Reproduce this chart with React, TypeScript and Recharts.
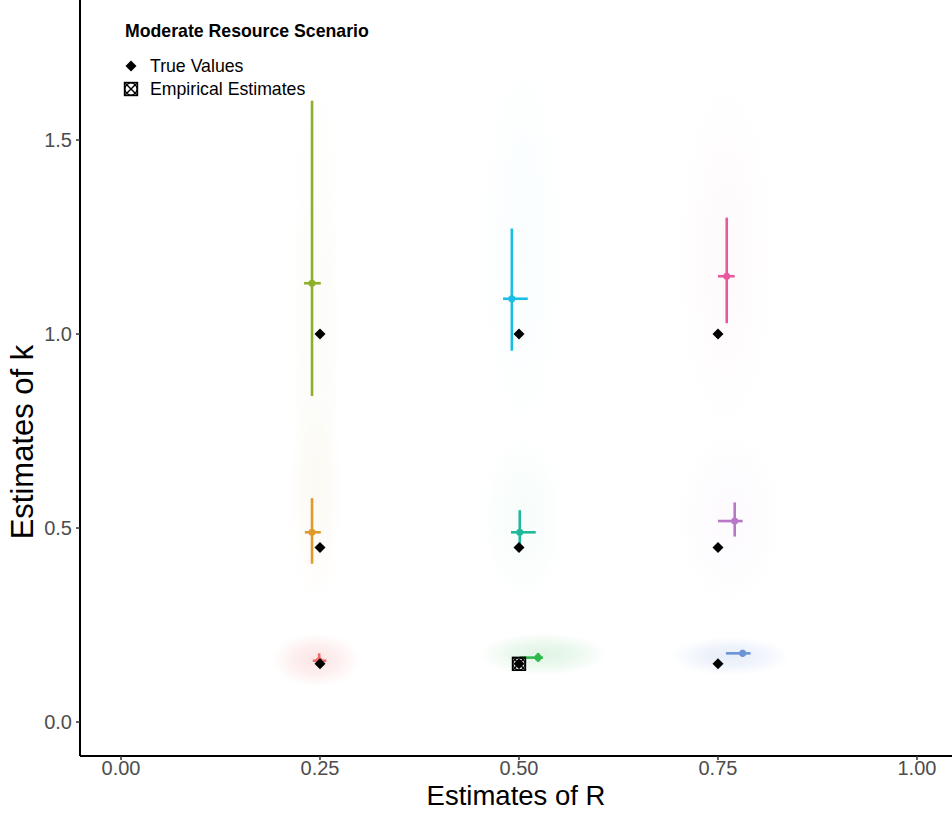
import React from 'react';
import { ScatterChart, Scatter, XAxis, YAxis, ErrorBar, ReferenceArea } from 'recharts';

const FONT = '"Liberation Sans", Arial, Helvetica, sans-serif';

// point estimates and interval ends, one entry per condition
const estR = [0.24, 0.491, 0.761, 0.24, 0.501, 0.771, 0.249, 0.524, 0.781];
const estRLo = [0.23, 0.48, 0.75, 0.231, 0.49, 0.75, 0.241, 0.501, 0.76];
const estRHi = [0.251, 0.511, 0.771, 0.251, 0.521, 0.781, 0.258, 0.53, 0.791];
const estK = [1.131, 1.091, 1.149, 0.489, 0.489, 0.518, 0.158, 0.166, 0.177];
const estKLo = [0.84, 0.957, 1.028, 0.408, 0.455, 0.478, 0.145, 0.155, 0.168];
const estKHi = [1.601, 1.272, 1.3, 0.577, 0.546, 0.566, 0.177, 0.178, 0.186];

// true parameter values
const trueR = [0.25, 0.5, 0.75, 0.25, 0.5, 0.75, 0.25, 0.5, 0.75];
const trueK = [1, 1, 1, 0.45, 0.45, 0.45, 0.15, 0.15, 0.15];

// empirical estimate
const empR = [0.5];
const empK = [0.15];

// extent of the faint cloud of replicate estimates
const cloudRLo = [0.21, 0.45, 0.7, 0.21, 0.45, 0.7, 0.19, 0.45, 0.69];
const cloudRHi = [0.28, 0.56, 0.82, 0.28, 0.56, 0.83, 0.3, 0.61, 0.84];
const cloudKLo = [0.3, 0.7, 0.75, 0.3, 0.3, 0.3, 0.09, 0.12, 0.12];
const cloudKHi = [1.75, 1.75, 1.65, 0.85, 0.75, 0.75, 0.23, 0.23, 0.22];

const xTicks = [0, 0.25, 0.5, 0.75, 1];
const yTicks = [0, 0.5, 1, 1.5];

const palette = ['#8DAF2A', '#1ABDE6', '#E8589E', '#E09A2C', '#1DB99A', '#B878C8', '#F06A68', '#2DB84A', '#6A93D8'];
const hazePeak = [0.03, 0.025, 0.03, 0.04, 0.035, 0.035, 0.17, 0.15, 0.16];

const estRows = estR.map((r, i) => ({
  x: r,
  y: estK[i],
  ex: [r - estRLo[i], estRHi[i] - r],
  ey: [estK[i] - estKLo[i], estKHi[i] - estK[i]],
}));
const trueRows = trueR.map((r, i) => ({ x: r, y: trueK[i] }));
const empRows = empR.map((r, i) => ({ x: r, y: empK[i] }));

const Haze = (props: any) => {
  const { x, y, width, height, color, peak, id } = props;
  if (width == null || height == null) return null;
  return (
    <g>
      <defs>
        <radialGradient id={id} cx="50%" cy="50%" r="50%">
          <stop offset="0%" stopColor={color} stopOpacity={peak} />
          <stop offset="50%" stopColor={color} stopOpacity={peak * 0.65} />
          <stop offset="100%" stopColor={color} stopOpacity={0} />
        </radialGradient>
      </defs>
      <ellipse cx={x + width / 2} cy={y + height / 2} rx={width / 2} ry={height / 2} fill={`url(#${id})`} />
    </g>
  );
};

const Diamond = (props: any) => {
  const { cx, cy } = props;
  const s = 5.5;
  return <polygon points={`${cx},${cy - s} ${cx + s},${cy} ${cx},${cy + s} ${cx - s},${cy}`} fill="#000" />;
};

const EmpMark = (props: any) => {
  const { cx, cy } = props;
  const h = 6.5;
  return (
    <g stroke="#000" strokeWidth={1.4} fill="none">
      <rect x={cx - h} y={cy - h} width={h * 2} height={h * 2} />
      <circle cx={cx} cy={cy} r={h - 0.4} />
      <line x1={cx - h} y1={cy - h} x2={cx + h} y2={cy + h} />
      <line x1={cx - h} y1={cy + h} x2={cx + h} y2={cy - h} />
    </g>
  );
};

const YTitle = () => (
  <text x={33} y={442} transform="rotate(-90 33 442)" textAnchor="middle" fontSize={31} fill="#000" fontFamily={FONT}>
    Estimates of k
  </text>
);

export default function App() {
  return (
    <div style={{ position: 'absolute', left: 0, top: 0, width: 952, height: 815, background: '#fff', fontFamily: FONT }}>
      <ScatterChart width={952} height={815} margin={{ top: 0, right: 0, bottom: 0, left: 0 }}>
        <XAxis
          type="number"
          dataKey="x"
          domain={[-0.0515, 1.044]}
          ticks={xTicks}
          allowDataOverflow
          height={59}
          tickFormatter={(v: number) => v.toFixed(2)}
          tick={{ fontSize: 20, fill: '#4D4D4D', fontFamily: FONT }}
          tickSize={4}
          tickMargin={1}
          axisLine={{ stroke: '#000', strokeWidth: 2 }}
          tickLine={{ stroke: '#333', strokeWidth: 1.5 }}
          label={{ value: 'Estimates of R', position: 'insideBottom', offset: 10, fontSize: 27.5, fill: '#000', fontFamily: FONT }}
        />
        <YAxis
          type="number"
          dataKey="y"
          domain={[-0.0876, 1.861]}
          ticks={yTicks}
          allowDataOverflow
          width={80}
          tickFormatter={(v: number) => v.toFixed(1)}
          tick={{ fontSize: 20, fill: '#4D4D4D', fontFamily: FONT }}
          tickSize={4}
          tickMargin={4}
          axisLine={{ stroke: '#000', strokeWidth: 2 }}
          tickLine={{ stroke: '#333', strokeWidth: 1.5 }}
          label={<YTitle />}
        />
        {estR.map((_, i) => (
          <ReferenceArea
            key={`c${i}`}
            x1={cloudRLo[i]}
            x2={cloudRHi[i]}
            y1={cloudKLo[i]}
            y2={cloudKHi[i]}
            shape={(p: any) => <Haze {...p} color={palette[i]} peak={hazePeak[i]} id={`haze${i}`} />}
          />
        ))}
        {estRows.map((row, i) => (
          <Scatter
            key={`e${i}`}
            data={[row]}
            fill={palette[i]}
            isAnimationActive={false}
            shape={(p: any) => <circle cx={p.cx} cy={p.cy} r={3.5} fill={palette[i]} />}
          >
            <ErrorBar dataKey="ey" direction="y" width={0} stroke={palette[i]} strokeWidth={2.6} isAnimationActive={false} />
            <ErrorBar dataKey="ex" direction="x" width={0} stroke={palette[i]} strokeWidth={2.6} isAnimationActive={false} />
          </Scatter>
        ))}
        <Scatter data={trueRows} fill="#000" isAnimationActive={false} shape={(p: any) => <Diamond {...p} />} />
        <Scatter data={empRows} fill="#000" isAnimationActive={false} shape={(p: any) => <EmpMark {...p} />} />
      </ScatterChart>
      <svg width={380} height={110} style={{ position: 'absolute', left: 0, top: 0 }}>
        <text x={125} y={37} fontSize={17.7} fontWeight="bold" fill="#000" fontFamily={FONT}>
          Moderate Resource Scenario
        </text>
        <Diamond cx={131} cy={66} />
        <text x={150} y={72} fontSize={17.7} fill="#000" fontFamily={FONT}>
          True Values
        </text>
        <EmpMark cx={131} cy={89} />
        <text x={150} y={95} fontSize={17.7} fill="#000" fontFamily={FONT}>
          Empirical Estimates
        </text>
      </svg>
    </div>
  );
}
